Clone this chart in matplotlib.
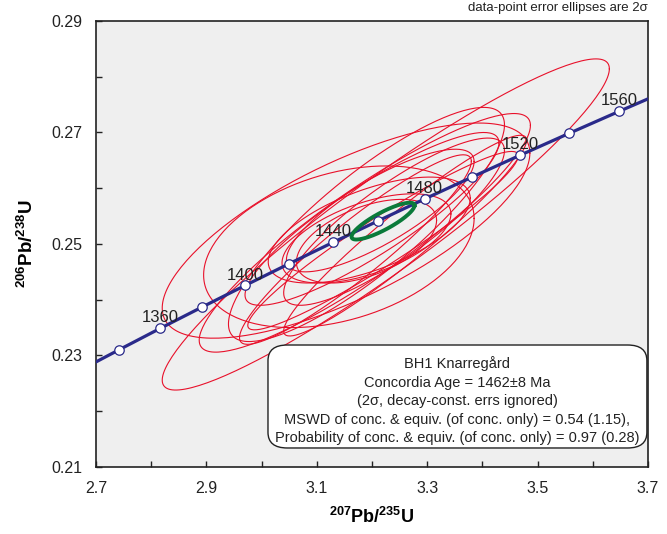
import matplotlib
matplotlib.use("Agg")
import matplotlib.pyplot as plt
import numpy as np
from matplotlib.patches import FancyBboxPatch

# concordia curve, ages in Ma with their 207Pb/235U and 206Pb/238U ratios
CONC_AGE = [1320, 1340, 1360, 1380, 1400, 1420, 1440, 1460, 1480, 1500, 1520, 1540, 1560, 1580]
CONC_X = [2.6693, 2.7423, 2.8167, 2.8927, 2.9701, 3.0491, 3.1296, 3.2118, 3.2955, 3.3810,
          3.4681, 3.5570, 3.6477, 3.7401]
CONC_Y = [0.22724, 0.23105, 0.23488, 0.23871, 0.24256, 0.24642, 0.25030, 0.25418, 0.25808,
          0.26199, 0.26591, 0.26984, 0.27379, 0.27775]
LABELLED_AGES = [1360, 1400, 1440, 1480, 1520, 1560]

# data-point error ellipses (2 sigma)
PB207_U235 = [3.225, 3.153, 3.140, 3.190, 3.187, 3.200, 3.215, 3.195, 3.190, 3.190, 3.220, 3.260, 3.240, 3.170]
PB207_ERR = [0.405, 0.333, 0.245, 0.250, 0.300, 0.230, 0.170, 0.183, 0.153, 0.127, 0.245, 0.220, 0.200, 0.210]
PB206_U238 = [0.2535, 0.2524, 0.2495, 0.2535, 0.2520, 0.2545, 0.2560, 0.2525, 0.2510, 0.2505, 0.2506, 0.2515, 0.2540, 0.2490]
PB206_ERR = [0.0297, 0.0193, 0.0145, 0.0210, 0.0214, 0.0155, 0.0110, 0.0095, 0.0080, 0.0075, 0.0160, 0.0180, 0.0150, 0.0170]
RHO = [0.94, 0.72, 0.35, 0.85, 0.90, 0.88, 0.80, 0.60, 0.55, 0.50, 0.95, 0.95, 0.85, 0.93]

# concordia age ellipse
AGE_X, AGE_XERR, AGE_Y, AGE_YERR, AGE_RHO = 3.220, 0.057, 0.2541, 0.0033, 0.85

BOX_LINES = [
    "BH1 Knarregård",
    "Concordia Age = 1462±8 Ma",
    "(2σ, decay-const. errs ignored)",
    "MSWD of conc. & equiv. (of conc. only) = 0.54 (1.15),",
    "Probability of conc. & equiv. (of conc. only) = 0.97 (0.28)",
]

plt.rcParams["font.family"] = ["Liberation Sans", "DejaVu Sans"]
plt.rcParams["mathtext.fontset"] = "custom"
plt.rcParams["mathtext.rm"] = "Liberation Sans"
plt.rcParams["mathtext.bf"] = "Liberation Sans:bold"

NAVY = "#2a2a8a"
RED = "#e8102a"
GREEN = "#0a7a3a"


def ellipse_xy(cx, ex, cy, ey, rho, n=200):
    t = np.linspace(0, 2 * np.pi, n)
    x = cx + ex * np.cos(t)
    y = cy + ey * (rho * np.cos(t) + np.sqrt(1 - rho ** 2) * np.sin(t))
    return x, y


fig = plt.figure(figsize=(6.67, 5.34), dpi=100)
ax = fig.add_axes([0.1439, 0.1255, 0.8276, 0.8352])
ax.set_facecolor("#efefef")

for cx, ex, cy, ey, r in zip(PB207_U235, PB207_ERR, PB206_U238, PB206_ERR, RHO):
    ex_, ey_ = ellipse_xy(cx, ex, cy, ey, r)
    ax.plot(ex_, ey_, color=RED, lw=0.8, zorder=2)

ax.plot(CONC_X, CONC_Y, color=NAVY, lw=2.3, zorder=3)
gx, gy = ellipse_xy(AGE_X, AGE_XERR, AGE_Y, AGE_YERR, AGE_RHO)
ax.plot(gx, gy, color=GREEN, lw=2.8, zorder=4)
ax.plot(CONC_X[1:-1], CONC_Y[1:-1], "o", ms=6.8, mfc="white", mec=NAVY, mew=0.9, zorder=5)

for age, x, y in zip(CONC_AGE, CONC_X, CONC_Y):
    if age in LABELLED_AGES:
        ax.annotate(str(age), (x, y), xytext=(0, 7.5), textcoords="offset points",
                    ha="center", va="center", fontsize=12, color="#222222", zorder=6)

ax.set_xlim(2.7, 3.7)
ax.set_ylim(0.21, 0.29)
ax.set_xticks([2.7, 2.9, 3.1, 3.3, 3.5, 3.7])
ax.set_xticks([2.8, 3.0, 3.2, 3.4, 3.6], minor=True)
ax.set_yticks([0.21, 0.23, 0.25, 0.27, 0.29])
ax.set_yticks([0.22, 0.24, 0.26, 0.28], minor=True)
ax.set_xticklabels(["2.7", "2.9", "3.1", "3.3", "3.5", "3.7"])
ax.set_yticklabels(["0.21", "0.23", "0.25", "0.27", "0.29"])
ax.tick_params(which="both", direction="in", length=4, width=1, labelsize=11.5,
               colors="#222222", pad=10)
for side in ["top", "right", "bottom", "left"]:
    ax.spines[side].set_linewidth(1.2)
    ax.spines[side].set_color("#222222")

ax.set_xlabel(r"$\mathbf{^{207}Pb/^{235}U}$", fontsize=13, labelpad=8)
ax.set_ylabel(r"$\mathbf{^{206}Pb/^{238}U}$", fontsize=13.5, labelpad=10)

fig.text(0.9715, 0.985, "data-point error ellipses are 2σ", ha="right", va="center",
         fontsize=9.5, color="#222222")

box = FancyBboxPatch((0.3116, 0.0426), 0.6864, 0.2309, transform=ax.transAxes,
                     boxstyle="round,pad=0,rounding_size=0.035", fc="white",
                     ec="#222222", lw=1.0, zorder=7)
ax.add_patch(box)
line_y = [0.2309, 0.1883, 0.1480, 0.1054, 0.0650]
for txt, yy in zip(BOX_LINES, line_y):
    ax.text(0.6545, yy, txt, transform=ax.transAxes, ha="center", va="center",
            fontsize=10.5, color="#222222", zorder=8)

fig.savefig("out.png", dpi=100)
